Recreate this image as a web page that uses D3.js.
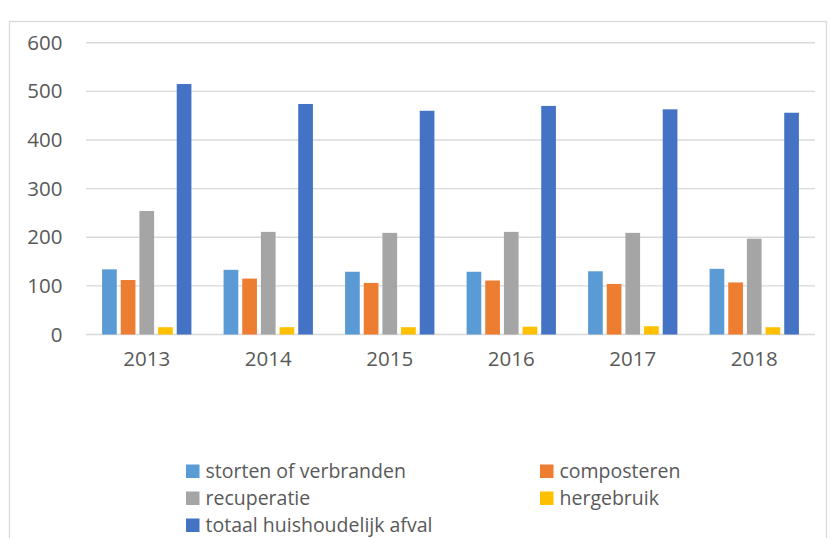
<!DOCTYPE html>
<html>
<head>
<meta charset="utf-8">
<script src="https://d3js.org/d3.v7.min.js"></script>
<style>
  body { margin: 0; background: #fff; }
  text { font-family: "Open Sans", "Noto Sans", sans-serif; fill: #595959; }
</style>
</head>
<body>
<div id="chart"></div>
<script>
// data
var years = ["2013", "2014", "2015", "2016", "2017", "2018"];
var series = ["storten of verbranden", "composteren", "recuperatie", "hergebruik", "totaal huishoudelijk afval"];
var colors = ["#5B9BD5", "#ED7D31", "#A5A5A5", "#FFC000", "#4472C4"];
var storten = [134, 133, 129, 129, 130, 135];
var composteren = [112, 115, 106, 111, 104, 107];
var recuperatie = [254, 211, 209, 211, 209, 197];
var hergebruik = [15, 15, 15, 16, 17, 15];
var totaal = [515, 474, 460, 470, 463, 456];
var yTicks = [0, 100, 200, 300, 400, 500, 600];

var values = [storten, composteren, recuperatie, hergebruik, totaal];

var W = 830, H = 538;

var svg = d3.select("#chart").append("svg")
    .attr("width", W).attr("height", H);

// outer chart border (runs off the bottom like the original)
svg.append("rect")
    .attr("x", 9.5).attr("y", 21.5)
    .attr("width", 817).attr("height", 540)
    .attr("fill", "#fff")
    .attr("stroke", "#d9d9d9").attr("stroke-width", 1.3);

var y = d3.scaleLinear().domain([0, 600]).range([334.5, 42.7]);
var x0 = d3.scaleBand().domain(years).range([86, 815]).padding(0);
// excel style: gap width ~219%, overlap ~-27%
var x1 = d3.scaleBand().domain(series).range([0, x0.bandwidth()])
    .paddingInner(0.2126).paddingOuter(0.862);

// gridlines
svg.append("g").selectAll("line")
  .data(yTicks)
  .join("line")
    .attr("x1", 86).attr("x2", 815)
    .attr("y1", d => y(d)).attr("y2", d => y(d))
    .attr("stroke", "#d9d9d9").attr("stroke-width", 1.4);

// y tick labels
var yAxis = svg.append("g")
    .attr("transform", "translate(86,0)")
    .call(d3.axisLeft(y).tickValues(yTicks).tickSize(0).tickPadding(23.5));
yAxis.select(".domain").remove();
yAxis.selectAll("text")
    .attr("fill", "#595959")
    .style("font-size", "20.5px")
    .style("font-family", "'Open Sans', sans-serif");

// bars
var groups = svg.append("g").selectAll("g")
  .data(years)
  .join("g")
    .attr("transform", d => "translate(" + x0(d) + ",0)");

groups.selectAll("rect")
  .data((d, i) => series.map((s, j) => ({s: s, j: j, v: values[j][i]})))
  .join("rect")
    .attr("x", d => x1(d.s))
    .attr("width", x1.bandwidth())
    .attr("y", d => y(d.v))
    .attr("height", d => y(0) - y(d.v))
    .attr("fill", d => colors[d.j]);

// x tick labels
var xAxis = svg.append("g")
    .attr("transform", "translate(0," + y(0) + ")")
    .call(d3.axisBottom(x0).tickSize(0).tickPadding(17));
xAxis.select(".domain").remove();
xAxis.selectAll("text")
    .attr("fill", "#595959")
    .style("font-size", "20.5px")
    .style("font-family", "'Open Sans', sans-serif");

// legend, two columns
var legendCols = [186, 540];
var legend = svg.append("g").selectAll("g")
  .data(series)
  .join("g")
    .attr("transform", (d, i) => "translate(" + legendCols[i % 2] + "," + (464.5 + Math.floor(i / 2) * 27) + ")");

legend.append("rect")
    .attr("width", 13.5).attr("height", 13.5)
    .attr("fill", (d, i) => colors[i]);

legend.append("text")
    .attr("x", 19.5).attr("y", 6.75)
    .attr("dy", "0.35em")
    .style("font-size", "19.5px")
    .text(d => d);
</script>
</body>
</html>
